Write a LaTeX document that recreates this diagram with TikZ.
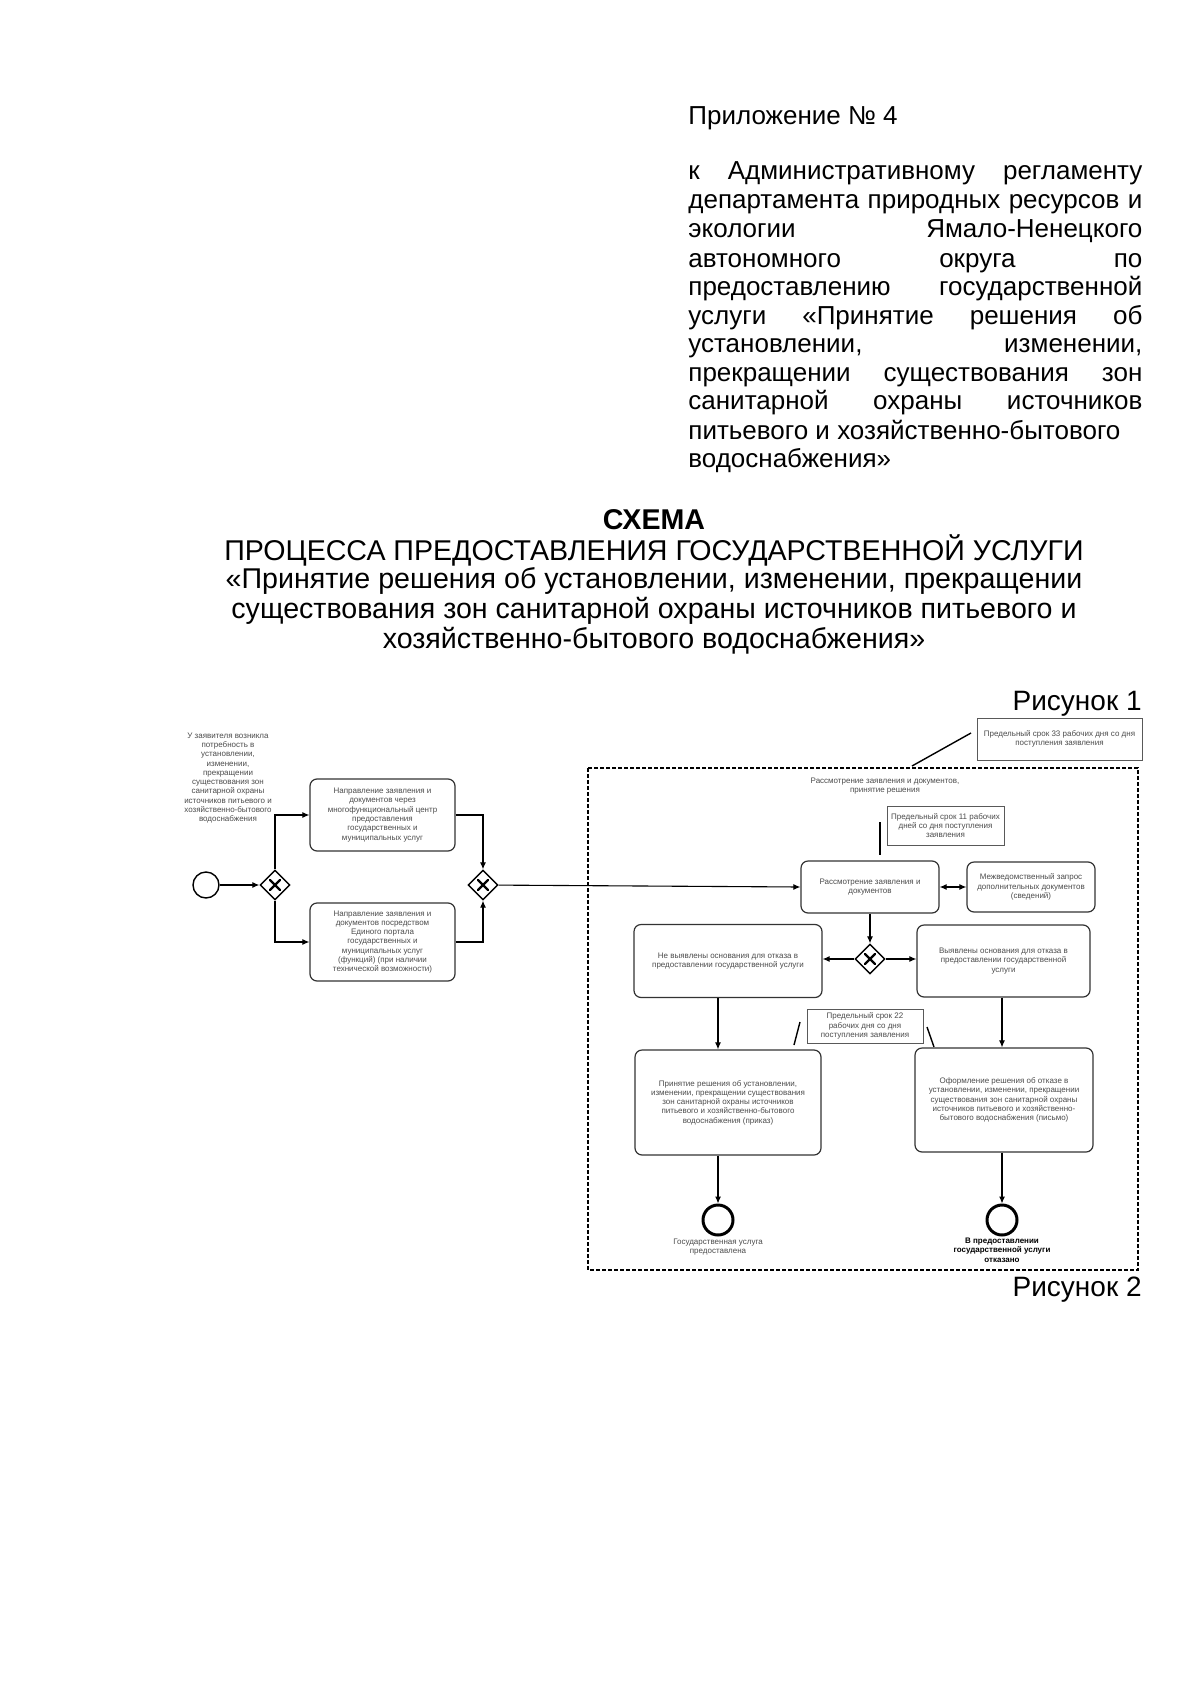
\documentclass[tikz,border=0pt]{standalone}
\usepackage{fontspec}
\setmainfont{Liberation Sans}
\usetikzlibrary{shapes.geometric,arrows.meta,calc}
\newcommand\dgf{\fontsize{4}{4.65}\selectfont}
\newcommand\hdf{\fontsize{13}{14.35}\selectfont}
\newcommand\rsf{\fontsize{14}{15}\selectfont}
\newcommand\ttf{\fontsize{14.3}{15.2}\selectfont}
\begin{document}
\begin{tikzpicture}[x=0.5pt,y=-0.5pt,
  hdr/.style={anchor=base west, inner sep=0pt, font=\hdf},
  ttl/.style={anchor=base, inner sep=0pt, font=\ttf},
  box/.style={draw=black!80, line width=0.6pt, rounded corners=3.5pt, align=center, inner sep=0pt, font=\dgf, text=black!70},
  ann/.style={draw=black!65, line width=0.5pt, align=center, inner sep=0pt, font=\dgf, text=black!70},
  lbl/.style={align=center, inner sep=0pt, font=\dgf, text=black!70},
  flow/.style={line width=0.55pt, -{Latex[length=3.5pt,width=3pt]}},
  gw/.style={diamond, draw=black, line width=0.7pt, minimum size=15pt, inner sep=0pt, fill=white},
  gx/.style={line width=1.2pt, line cap=round},
  assoc/.style={line width=0.7pt},
  evs/.style={circle, draw=black, line width=0.7pt, minimum size=13pt, inner sep=0pt},
  eve/.style={circle, draw=black, line width=1.5pt, minimum size=15pt, inner sep=0pt}
]
\useasboundingbox[fill=white] (0,0) rectangle (1200,1696);

% header
\node[hdr] (h0) at (688,125) {Приложение № 4};
\node[hdr] (h1) at (688,180) {\makebox[227pt][s]{к Административному регламенту}};
\node[hdr] (h2) at (688,209) {\makebox[227pt][s]{департамента природных ресурсов и}};
\node[hdr] (h3) at (688,237.5) {\makebox[227pt][s]{экологии Ямало-Ненецкого}};
\node[hdr] (h4) at (688,267) {\makebox[227pt][s]{автономного округа по}};
\node[hdr] (h5) at (688,295) {\makebox[227pt][s]{предоставлению государственной}};
\node[hdr] (h6) at (688,324) {\makebox[227pt][s]{услуги «Принятие решения об}};
\node[hdr] (h7) at (688,352) {\makebox[227pt][s]{установлении, изменении,}};
\node[hdr] (h8) at (688,381) {\makebox[227pt][s]{прекращении существования зон}};
\node[hdr] (h9) at (688,409.5) {\makebox[227pt][s]{санитарной охраны источников}};
\node[hdr] (h10) at (688,439) {питьевого и хозяйственно-бытового};
\node[hdr] (h11) at (688,467) {водоснабжения»};

% title
\node[ttl] (t0) at (654,529) {\textbf{СХЕМА}};
\node[ttl] (t1) at (654,560) {ПРОЦЕССА ПРЕДОСТАВЛЕНИЯ ГОСУДАРСТВЕННОЙ УСЛУГИ};
\node[ttl] (t2) at (654,588) {«Принятие решения об установлении, изменении, прекращении};
\node[ttl] (t3) at (654,618) {существования зон санитарной охраны источников питьевого и};
\node[ttl] (t4) at (654,648) {хозяйственно-бытового водоснабжения»};

\node[anchor=base east, inner sep=0pt, font=\rsf] (r1) at (1142,710) {Рисунок 1};
\node[anchor=base east, inner sep=0pt, font=\rsf] (r2) at (1142,1296) {Рисунок 2};

% pool
\draw[line width=0.6pt, dash pattern=on 2pt off 1pt] (588,768) rectangle (1138,1270);
\node[lbl] (pl) at (885,786) {Рассмотрение заявления и документов,\\принятие решения};

% start
\node[evs] (s) at (206,885) {};
\node[lbl] (st) at (228,778) {У заявителя возникла\\потребность в\\установлении,\\изменении,\\прекращении\\существования зон\\санитарной охраны\\источников питьевого и\\хозяйственно-бытового\\водоснабжения};

% gateways
\node[gw] (g1) at (275,885) {};
\node[gw] (g2) at (483,885) {};
\node[gw] (g3) at (870,959) {};
\foreach \g in {g1,g2,g3}{
  \draw[gx] ($(\g)+(-5,-5)$) -- ($(\g)+(5,5)$);
  \draw[gx] ($(\g)+(-5,5)$) -- ($(\g)+(5,-5)$);
}

% boxes
\node[box, minimum width=72.5pt, minimum height=36pt] (b1) at (382.5,815) {Направление заявления и\\документов через\\многофункциональный центр\\предоставления\\государственных и\\муниципальных услуг};
\node[box, minimum width=72.5pt, minimum height=39pt] (b2) at (382.5,942) {Направление заявления и\\документов посредством\\Единого портала\\государственных и\\муниципальных услуг\\(функций) (при наличии\\технической возможности)};
\node[box, minimum width=69pt, minimum height=26pt] (rs) at (870,887) {Рассмотрение заявления и\\документов};
\node[box, minimum width=64pt, minimum height=25pt] (mz) at (1031,887) {Межведомственный запрос\\дополнительных документов\\(сведений)};
\node[box, minimum width=94pt, minimum height=36.5pt] (nv) at (728,961) {Не выявлены основания для отказа в\\предоставлении государственной услуги};
\node[box, minimum width=86.5pt, minimum height=36pt] (vv) at (1003.5,961) {Выявлены основания для отказа в\\предоставлении государственной\\услуги};
\node[box, minimum width=93pt, minimum height=52.5pt] (pr) at (728,1102.5) {Принятие решения об установлении,\\изменении, прекращении существования\\зон санитарной охраны источников\\питьевого и хозяйственно-бытового\\водоснабжения (приказ)};
\node[box, minimum width=89pt, minimum height=52pt] (of) at (1004,1100) {Оформление решения об отказе в\\установлении, изменении, прекращении\\существования зон санитарной охраны\\источников питьевого и хозяйственно-\\бытового водоснабжения (письмо)};

% annotations
\node[ann, minimum width=82.5pt, minimum height=21pt] (a1) at (1059.5,739) {Предельный срок 33 рабочих дня со дня\\поступления заявления};
\node[ann, minimum width=58.5pt, minimum height=19.5pt] (a2) at (945.5,825.5) {Предельный срок 11 рабочих\\дней со дня поступления\\заявления};
\node[ann, minimum width=58pt, minimum height=17pt] (a3) at (865,1026) {Предельный срок 22\\рабочих дня со дня\\поступления заявления};

\coordinate (a1s) at (971,733);
\coordinate (a1e) at (912,766);
\draw[assoc] (a1s) -- (a1e);
\coordinate (a2s) at (880,822);
\coordinate (a2e) at (880,855);
\draw[assoc] (a2s) -- (a2e);
\coordinate (a3ls) at (800,1022);
\coordinate (a3le) at (794,1045);
\draw[assoc] (a3ls) -- (a3le);
\coordinate (a3rs) at (927,1027);
\coordinate (a3re) at (934,1047);
\draw[assoc] (a3rs) -- (a3re);

% end events
\node[eve] (e1) at (718,1220) {};
\node[eve] (e2) at (1002,1220) {};
\node[lbl] (e1t) at (718,1247) {Государственная услуга\\предоставлена};
\node[lbl, text=black, font=\dgf\bfseries] (e2t) at (1002,1250) {В предоставлении\\государственной услуги\\отказано};

% flows
\draw[flow] (s) -- (g1);
\draw[flow] (g1.north) |- (b1.west);
\draw[flow] (g1.south) |- (b2.west);
\draw[flow] (b1.east) -| (g2.north);
\draw[flow] (b2.east) -| (g2.south);
\draw[flow] (g2) -- (rs.west);
\draw[line width=0.55pt, {Latex[length=3.5pt,width=3pt]}-{Latex[length=3.5pt,width=3pt]}] (rs.east) -- (mz.west);
\draw[flow] (rs.south) -- (g3.north);
\draw[flow] (g3.west) -- (g3.west -| nv.east);
\draw[flow] (g3.east) -- (g3.east -| vv.west);
\draw[flow] (nv.south -| e1) -- (pr.north -| e1);
\draw[flow] (vv.south -| e2) -- (of.north -| e2);
\draw[flow] (pr.south -| e1) -- (e1.north);
\draw[flow] (of.south -| e2) -- (e2.north);
\end{tikzpicture}
\end{document}
